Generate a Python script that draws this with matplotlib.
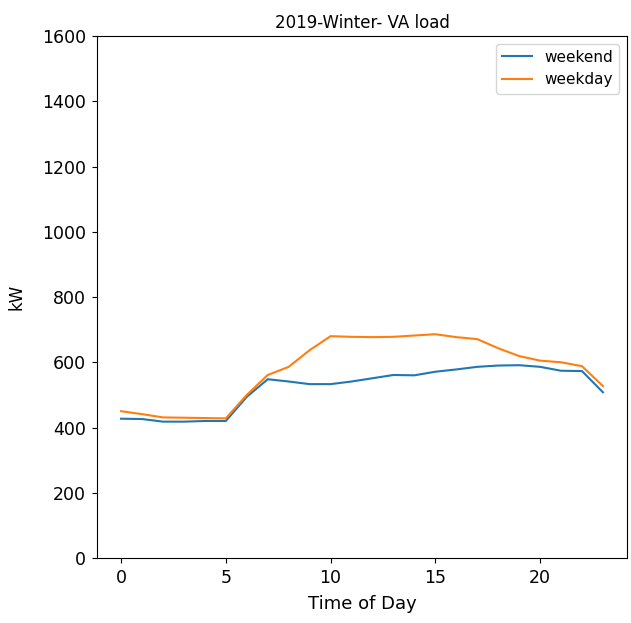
import matplotlib
matplotlib.use("Agg")
import matplotlib.pyplot as plt

hours = list(range(24))
weekend = [427, 426, 418, 418, 420, 420, 494, 548, 541, 533, 533, 541, 551, 561, 560, 571,
           578, 586, 590, 591, 586, 574, 573, 508]
weekday = [450, 441, 431, 430, 429, 428, 500, 561, 586, 637, 680, 678, 677, 678, 682, 686,
           677, 671, 643, 619, 605, 600, 588, 527]

fig = plt.figure(figsize=(6.31, 6.23), dpi=100)
ax = fig.add_axes([0.1537, 0.1043, 0.84, 0.8379])
ax.plot(hours, weekend, label="weekend")
ax.plot(hours, weekday, label="weekday")
ax.set_ylim(0, 1600)
ax.set_xticks([0, 5, 10, 15, 20])
ax.set_title("2019-Winter- VA load")
ax.set_xlabel("Time of Day", fontsize=13, labelpad=6)
ax.set_ylabel("kW", fontsize=12, labelpad=12)
ax.tick_params(labelsize=12.5, pad=4.5)
ax.legend(loc="upper right", fontsize=11)
fig.savefig("out.png", dpi=100)
